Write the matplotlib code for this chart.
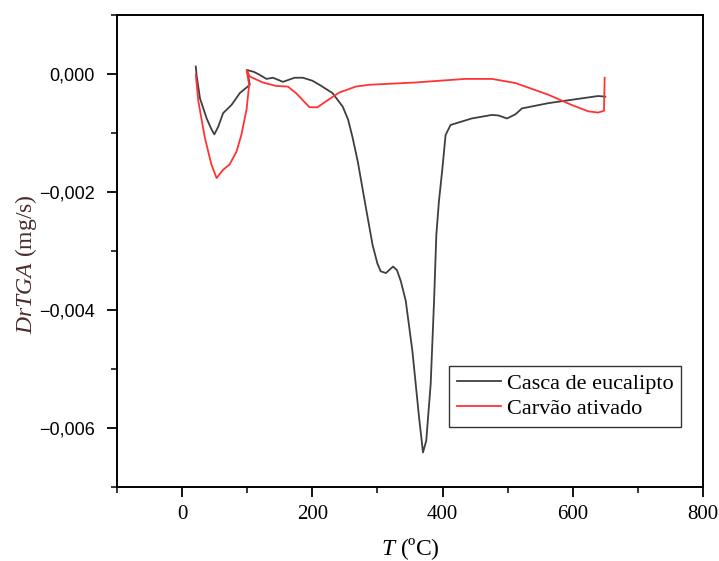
import matplotlib
matplotlib.use("Agg")
import matplotlib.pyplot as plt
from matplotlib.ticker import MultipleLocator, FuncFormatter

plt.rcParams["mathtext.fontset"] = "custom"
plt.rcParams["mathtext.it"] = "Liberation Serif:italic"
plt.rcParams["mathtext.rm"] = "Liberation Serif"

# Casca de eucalipto (black)
t_casca = [21, 22.5, 27.5, 37.7, 45.4, 49.5, 55.5, 63, 76, 88.7, 104, 100, 110, 119,
           129.5, 139.6, 155, 165, 172.8, 185.5, 200, 211, 231, 246.7, 255, 262, 270,
           280, 292.5, 300, 305, 313, 318, 324, 330, 336, 343.5, 353.7, 364, 370, 375,
           381.8, 387, 390.5, 394.5, 399.6, 404.7, 412.4, 445, 476, 486, 499, 512, 522,
           563, 613.6, 639, 650]
d_casca = [0.00012, -0.00005, -0.00042, -0.00076, -0.00095, -0.00103, -0.00090, -0.00067,
           -0.00053, -0.00033, -0.00019, 0.00006, 0.00003, -0.00002, -0.00009, -0.00007,
           -0.00014, -0.00010, -0.00007, -0.00007, -0.00012, -0.00019, -0.00033, -0.00056,
           -0.00078, -0.00109, -0.00150, -0.00213, -0.00290, -0.00322, -0.00335, -0.00338,
           -0.00333, -0.00327, -0.00333, -0.00352, -0.00385, -0.00470, -0.00583, -0.00642,
           -0.00622, -0.00526, -0.00385, -0.00273, -0.00216, -0.00163, -0.00104, -0.00087,
           -0.00076, -0.00070, -0.00071, -0.00076, -0.00069, -0.00059, -0.00050, -0.00042,
           -0.00038, -0.00039]

# Carvão ativado (red)
t_carvao = [21, 25, 35, 45, 53, 63, 73, 83.6, 91, 99, 103, 99, 104, 124, 144.7, 162.5,
            175, 195.7, 208, 221, 241.6, 267, 287, 359, 435, 476, 512, 563, 598, 624,
            639, 648, 649]
d_carvao = [-0.00002, -0.00047, -0.00109, -0.00154, -0.00177, -0.00163, -0.00154, -0.00132,
            -0.00104, -0.00061, -0.00019, 0.00006, -0.00005, -0.00015, -0.00021, -0.00022,
            -0.00033, -0.00057, -0.00057, -0.00047, -0.00032, -0.00022, -0.00019, -0.00015,
            -0.00009, -0.00009, -0.00016, -0.00036, -0.00053, -0.00064, -0.00066, -0.00063,
            -0.00007]

labels = ["Casca de eucalipto", "Carvão ativado"]
x_ticks = [0, 200, 400, 600, 800]
y_ticks = [0.000, -0.002, -0.004, -0.006]

serif = "Liberation Serif"
sans = "Liberation Sans"

fig = plt.figure(figsize=(7.19, 5.61), dpi=100)
ax = fig.add_axes([0.1627, 0.1325, 0.815, 0.8415])

ax.plot(t_casca, d_casca, color="#3f3f3f", lw=1.3, label=labels[0])
ax.plot(t_carvao, d_carvao, color="#ff3333", lw=1.3, label=labels[1])

ax.set_xlim(-100, 800)
ax.set_ylim(-0.007, 0.001)
ax.set_xticks(x_ticks)
ax.set_yticks(y_ticks)
ax.xaxis.set_minor_locator(MultipleLocator(100))
ax.yaxis.set_minor_locator(MultipleLocator(0.001))

def yfmt(v, pos):
    s = f"{abs(v):.3f}".replace(".", ",")
    return ("\u2212" + s) if v < -1e-12 else s

ax.yaxis.set_major_formatter(FuncFormatter(yfmt))
ax.xaxis.set_major_formatter(FuncFormatter(lambda v, p: f"{int(v)}"))

for sp in ax.spines.values():
    sp.set_linewidth(1.4)

ax.tick_params(which="major", direction="out", length=7, width=1.3)
ax.tick_params(which="minor", direction="out", length=4, width=1.1)
for lab in ax.get_xticklabels():
    lab.set_fontfamily(serif)
    lab.set_fontsize(15)
for lab in ax.get_yticklabels():
    lab.set_fontfamily(sans)
    lab.set_fontsize(13)
ax.tick_params(axis="x", pad=6)
ax.tick_params(axis="y", pad=9)

ax.set_xlabel(r"$\mathit{T}$ (ºC)", fontfamily=serif, fontsize=17, labelpad=9)
fig.text(0.036, 0.53, "$\\mathit{DrTGA}$ (mg/s)", rotation=90, ha="center", va="center",
         fontfamily=serif, fontsize=17, color="#4a2a2a")

leg = ax.legend(loc="lower right", bbox_to_anchor=(0.963, 0.127), prop={"family": serif, "size": 16},
                frameon=True, fancybox=False, edgecolor="#333333", framealpha=1,
                handlelength=2.0, handletextpad=0.25, borderpad=0.35, labelspacing=0.2,
                borderaxespad=0)
leg.get_frame().set_linewidth(1.0)

fig.savefig("out.png", dpi=100)
